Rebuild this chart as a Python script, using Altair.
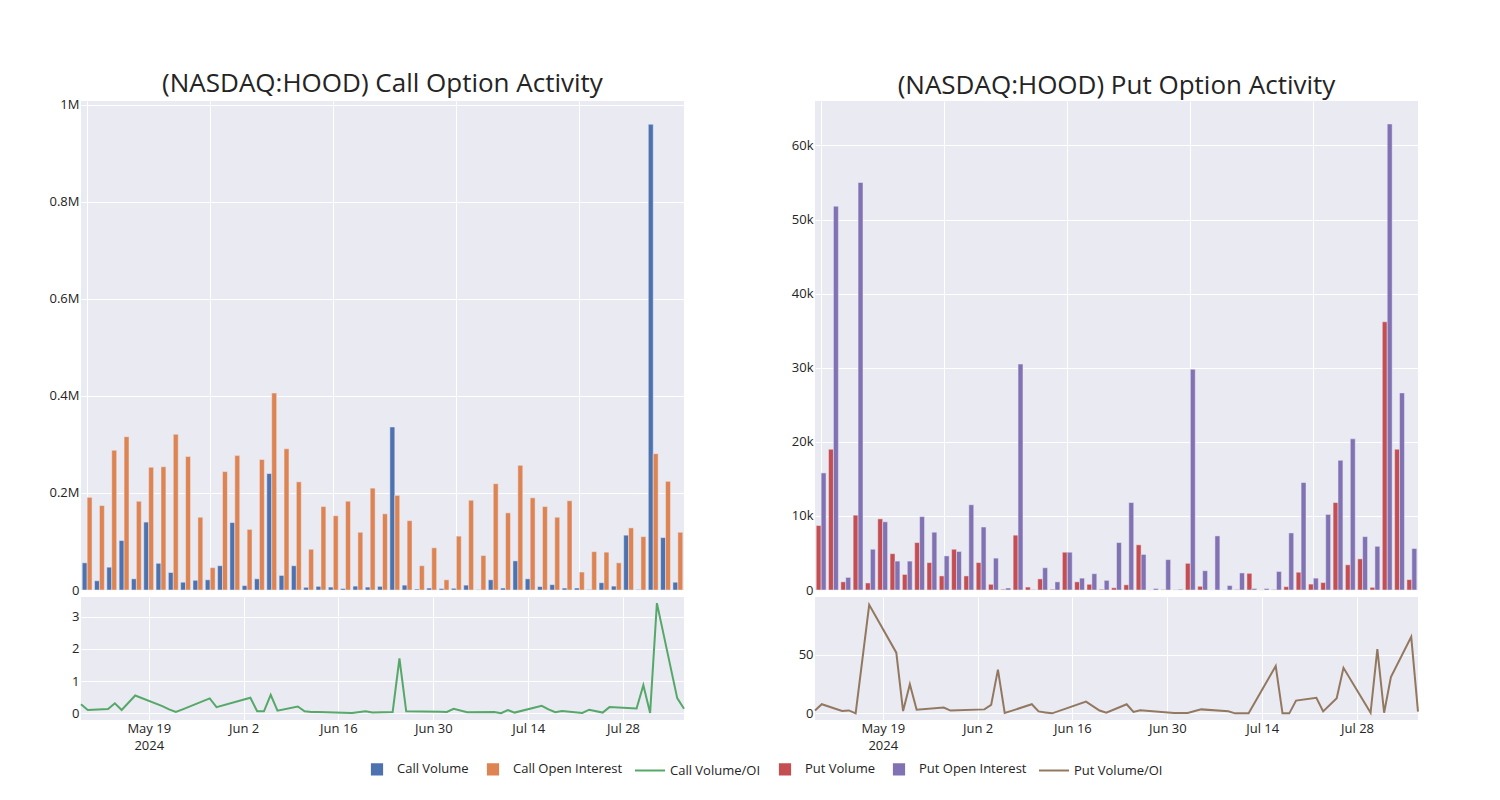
import altair as alt
import pandas as pd

# ---------------- data ----------------
dates = ["2024-05-09", "2024-05-10", "2024-05-13", "2024-05-14", "2024-05-15", "2024-05-17",
         "2024-05-21", "2024-05-22", "2024-05-23", "2024-05-24", "2024-05-28", "2024-05-29",
         "2024-06-03", "2024-06-04", "2024-06-05", "2024-06-06", "2024-06-07", "2024-06-10",
         "2024-06-11", "2024-06-12", "2024-06-13", "2024-06-18", "2024-06-20", "2024-06-21",
         "2024-06-24", "2024-06-25", "2024-06-26", "2024-07-01", "2024-07-02", "2024-07-03",
         "2024-07-05", "2024-07-09", "2024-07-10", "2024-07-11", "2024-07-12", "2024-07-16",
         "2024-07-17", "2024-07-18", "2024-07-19", "2024-07-22", "2024-07-23", "2024-07-25",
         "2024-07-26", "2024-07-30", "2024-07-31", "2024-08-01", "2024-08-02", "2024-08-05",
         "2024-08-06"]

# thousands of contracts
call_volume = [56, 19, 47, 102, 23, 140, 55, 36, 16, 20,
               21, 50, 139, 9, 23, 240, 30, 50, 5.5, 7.5,
               6, 3, 8, 6, 7.5, 336, 10, 2, 4, 3,
               3.5, 10, 0.5, 21, 4, 60, 23, 7, 11, 4,
               4, 1, 15, 8, 113, 1, 960, 108, 16]
call_oi = [191, 174, 288, 316, 183, 253, 254, 321, 275, 150,
           46, 244, 277, 125, 269, 406, 291, 223, 84, 172,
           153, 183, 119, 210, 157, 195, 143, 50, 87, 21,
           111, 185, 71, 219, 159, 257, 190, 172, 150, 184,
           37, 79, 78, 56, 128, 110, 281, 224, 119]
call_ratio = [0.28, 0.10, 0.13, 0.31, 0.10, 0.55, 0.22, 0.12, 0.04, 0.12,
              0.46, 0.19, 0.48, 0.06, 0.06, 0.57, 0.08, 0.21, 0.06, 0.04,
              0.04, 0.01, 0.06, 0.02, 0.04, 1.70, 0.06, 0.05, 0.04, 0.14,
              0.03, 0.04, 0.00, 0.10, 0.02, 0.23, 0.12, 0.03, 0.07, 0.01,
              0.11, 0.02, 0.19, 0.15, 0.87, 0.01, 3.42, 0.47, 0.14]

put_volume = [8.7, 19.0, 1.1, 10.1, 0.95, 9.6, 4.9, 2.1, 6.4, 3.7,
              1.9, 5.5, 1.9, 3.7, 0.77, 0.1, 7.4, 0.4, 1.5, 0.1,
              5.1, 1.1, 0.77, 0.1, 0.3, 0.7, 6.1, 0.0, 0.05, 0.02,
              3.6, 0.5, 0.0, 0.0, 0.05, 2.25, 0.0, 0.05, 0.45, 2.4,
              0.8, 1.0, 11.8, 3.4, 4.2, 0.36, 36.2, 19.0, 1.4]
put_oi = [15.8, 51.8, 1.7, 55.0, 5.5, 9.2, 3.9, 3.9, 9.9, 7.8,
          4.6, 5.2, 11.5, 8.5, 4.3, 0.27, 30.5, 0.05, 3.0, 1.1,
          5.1, 1.6, 2.2, 1.3, 6.4, 11.8, 4.8, 0.2, 4.1, 0.1,
          29.8, 2.6, 7.3, 0.6, 2.3, 0.2, 0.2, 2.5, 7.7, 14.5,
          1.6, 10.2, 17.5, 20.4, 7.2, 5.9, 62.9, 26.6, 5.6]
put_ratio = [2.4, 7.8, 2.1, 2.5, 0.0, 93.0, 52.0, 2.0, 25.0, 3.1,
             5.0, 2.4, 3.4, 7.2, 37.5, 0.3, 2.1, 7.8, 1.7, 0.8,
             0.0, 10.0, 2.4, 0.5, 7.8, 1.2, 2.7, 0.3, 0.3, 0.3,
             3.4, 1.7, 0.0, 0.0, 0.0, 40.5, 0.0, 0.0, 10.9, 13.3,
             1.7, 12.9, 39.0, 0.5, 55.0, 0.5, 31.0, 65.5, 1.5]

series_names = ["Call Volume", "Call Open Interest", "Call Volume/OI",
                "Put Volume", "Put Open Interest", "Put Volume/OI"]
series_colors = ["#4C72B0", "#DD8452", "#55A868", "#C44E52", "#8172B3", "#937860"]
SQUARE = "M-0.34,-0.34H0.34V0.34H-0.34Z"
STROKE = "M-1,0H1"
legend_shapes = [SQUARE, SQUARE, STROKE, SQUARE, SQUARE, STROKE]

call_y_ticks = [0, 200000, 400000, 600000, 800000, 1000000]
put_y_ticks = [0, 10000, 20000, 30000, 40000, 50000, 60000]
call_ratio_ticks = [0, 1, 2, 3]
put_ratio_ticks = [0, 50]
date_ticks = ["2024-05-19", "2024-06-02", "2024-06-16", "2024-06-30", "2024-07-14", "2024-07-28"]
bar_grid_index = [0, 10, 20, 30, 40]

# ---------------- tables ----------------
n = len(dates)
idx = list(range(n))
call_bars = pd.DataFrame({
    "idx": idx + idx,
    "series": ["Call Volume"] * n + ["Call Open Interest"] * n,
    "value": [v * 1000 for v in call_volume] + [v * 1000 for v in call_oi],
})
put_bars = pd.DataFrame({
    "idx": idx + idx,
    "series": ["Put Volume"] * n + ["Put Open Interest"] * n,
    "value": [v * 1000 for v in put_volume] + [v * 1000 for v in put_oi],
})
call_line = pd.DataFrame({"date": dates, "value": call_ratio, "series": "Call Volume/OI"})
put_line = pd.DataFrame({"date": dates, "value": put_ratio, "series": "Put Volume/OI"})

tick_ms = [int(pd.Timestamp(d, tz="UTC").value // 10**6) for d in date_ticks]

# ---------------- styling ----------------
FONT = "Open Sans"
TXT = "rgb(36,36,36)"
BAR_W, BAR_H, LINE_H = 603, 489, 123

# color scale for the marks (listed in reverse so it is not merged with the legend's scales)
color = alt.Color("series:N",
                  scale=alt.Scale(domain=series_names[::-1], range=series_colors[::-1]),
                  legend=None)

legend = alt.Legend(
    orient="none", legendX=280, legendY=652, direction="horizontal", title=None,
    symbolSize=900, labelOffset=4, columnPadding=8, symbolStrokeWidth=2, symbolOpacity=1,
    labelFont=FONT, labelFontSize=13, labelColor=TXT,
)


def bar_panel(df, pair, ticks, ymax, label_expr, title, title_offset):
    return alt.Chart(df).transform_calculate(
        x0=f"datum.idx + (datum.series == '{pair[0]}' ? -0.4 : 0)",
        x1="datum.x0 + 0.4",
    ).mark_bar(stroke="#EAEAF2", strokeWidth=0.5).encode(
        x=alt.X("x0:Q", title=None,
                scale=alt.Scale(domain=[-0.5, n - 0.5], nice=False, zero=False),
                axis=alt.Axis(values=bar_grid_index, labels=False, ticks=False, domain=False, grid=True)),
        x2="x1:Q",
        y=alt.Y("value:Q", title=None, scale=alt.Scale(domain=[0, ymax], nice=False),
                axis=alt.Axis(values=ticks, labelExpr=label_expr)),
        y2=alt.datum(0),
        color=color,
    ).properties(
        width=BAR_W, height=BAR_H,
        title=alt.TitleParams(title, font=FONT, fontSize=26, fontWeight="normal", color=TXT,
                              anchor="middle", offset=title_offset),
    )


def line_panel(df, ticks, ydom, with_legend=False):
    base = alt.Chart(df).encode(
        x=alt.X("date:T", title=None, scale=alt.Scale(type="utc", nice=False),
                axis=alt.Axis(values=tick_ms, labelLineHeight=17,
                              labelExpr="datum.index == 0 ? [utcFormat(datum.value, '%b %-d'), utcFormat(datum.value, '%Y')] : utcFormat(datum.value, '%b %-d')")),
        y=alt.Y("value:Q", title=None, scale=alt.Scale(domain=ydom, nice=False, zero=False),
                axis=alt.Axis(values=ticks)),
    )
    line = base.mark_line(strokeWidth=2).encode(color=color)
    if not with_legend:
        return line.properties(width=BAR_W, height=LINE_H)
    # hidden layer (no rows) that only carries the shared legend
    key = base.mark_point(filled=True, opacity=1).encode(
        fill=alt.Fill("series:N", scale=alt.Scale(domain=series_names, range=series_colors), legend=legend),
        stroke=alt.Stroke("series:N", scale=alt.Scale(domain=series_names, range=series_colors), legend=legend),
        shape=alt.Shape("series:N", scale=alt.Scale(domain=series_names, range=legend_shapes), legend=legend),
    ).transform_filter("datum.value < -1000")
    return alt.layer(line, key).properties(width=BAR_W, height=LINE_H)


call_panel = alt.vconcat(
    bar_panel(call_bars, ["Call Volume", "Call Open Interest"], call_y_ticks, 1008000,
              "datum.value == 0 ? '0' : format(datum.value / 1000000, '~g') + 'M'",
              "(NASDAQ:HOOD) Call Option Activity", 2),
    line_panel(call_line, call_ratio_ticks, [-0.21, 3.61], with_legend=True),
    spacing=7, bounds="flush",
)
put_panel = alt.vconcat(
    bar_panel(put_bars, ["Put Volume", "Put Open Interest"], put_y_ticks, 66000,
              "datum.value == 0 ? '0' : format(datum.value / 1000, '~g') + 'k'",
              "(NASDAQ:HOOD) Put Option Activity", 2),
    line_panel(put_line, put_ratio_ticks, [-5.7, 99.7]),
    spacing=7, bounds="flush",
)

chart = alt.hconcat(call_panel, put_panel, spacing=103).resolve_scale(
    color="shared"
).properties(
    padding={"left": 41, "top": 62, "right": 5, "bottom": 5},
    background="white",
).configure_view(
    fill="#EAEAF2", stroke=None,
).configure_axis(
    labelFont=FONT, labelFontSize=13, labelColor=TXT, labelPadding=2,
    grid=True, gridColor="white", gridWidth=1, domain=False, ticks=False,
)

chart.save("out.html", embed_options={"renderer": "svg", "actions": False})
